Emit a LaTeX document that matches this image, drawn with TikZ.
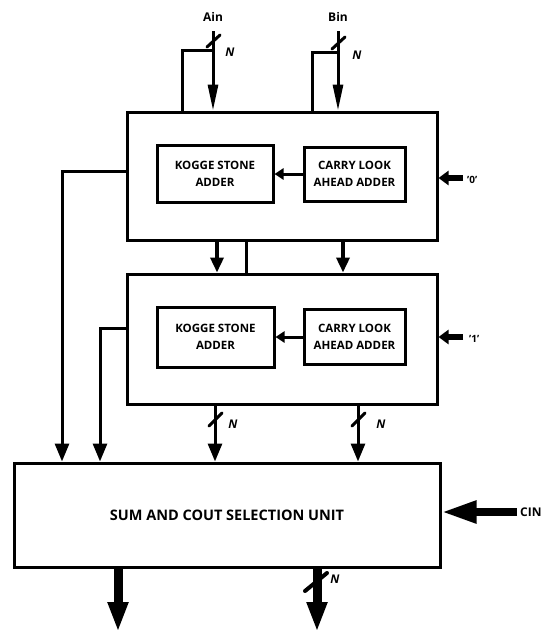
\documentclass[tikz,border=0pt]{standalone}
\usepackage{fontspec}
\setmainfont{Open Sans}
\usetikzlibrary{arrows.meta}
\begin{document}
\begin{tikzpicture}[x=1pt,y=-1pt,
  bigbox/.style={draw, line width=3pt, minimum width=310pt, minimum height=128pt, inner sep=0pt},
  inbox/.style={draw, line width=3pt, inner sep=0pt, align=center, font=\bfseries\fontsize{11.5}{17}\selectfont},
  wire/.style={line width=3pt},
  arr/.style={line width=3pt, -{Triangle[length=18pt,width=14pt]}},
  marr/.style={line width=3.5pt, -{Triangle[length=15pt,width=13pt]}},
  inarr/.style={line width=3pt, -{Triangle[length=26pt,width=10pt]}},
  carr/.style={line width=6pt, -{Triangle[length=10pt,width=14pt]}},
  sarr/.style={line width=3pt, -{Triangle[length=9pt,width=11pt]}},
  bigarr/.style={line width=9pt, -{Triangle[length=30pt,width=19pt]}},
  cinarr/.style={line width=8pt, -{Triangle[length=35pt,width=21pt]}},
  slashln/.style={line width=3pt, line cap=round},
  lbl/.style={font=\bfseries\fontsize{12}{14}\selectfont, inner sep=0pt},
  nlbl/.style={font=\bfseries\itshape\fontsize{12}{14}\selectfont, inner sep=0pt},
  qlbl/.style={font=\bfseries\fontsize{10}{12}\selectfont, inner sep=0pt}
]
\useasboundingbox (0,0) rectangle (541,632);

% main boxes
\node[bigbox] (top) at (282,176) {};
\node[bigbox, minimum height=130pt] (mid) at (282,339) {};
\node[bigbox, minimum width=426pt, minimum height=104pt, font=\bfseries\fontsize{14.5}{17}\selectfont] (sum) at (227,515) {SUM AND COUT SELECTION UNIT};

% inner boxes
\node[inbox, minimum width=116pt, minimum height=57pt] (ksa1) at (215,174) {KOGGE STONE\\ADDER};
\node[inbox, minimum width=101pt, minimum height=54pt] (cla1) at (354.5,174) {CARRY LOOK\\AHEAD ADDER};
\node[inbox, minimum width=117pt, minimum height=60pt] (ksa2) at (215.5,337) {KOGGE STONE\\ADDER};
\node[inbox, minimum width=101pt, minimum height=55pt] (cla2) at (354.5,337) {CARRY LOOK\\AHEAD ADDER};
\draw[sarr] (cla1.west) -- (ksa1.east);
\draw[sarr] (cla2.west) -- (ksa2.east);

% inputs Ain / Bin
\node[lbl] (ainl) at (213,17) {Ain};
\node[lbl] (binl) at (338,17) {Bin};
\coordinate (ain) at (213,31);
\coordinate (bin) at (338,31);
\draw[inarr] (ain) -- (ain |- top.north);
\draw[inarr] (bin) -- (bin |- top.north);
\coordinate (abr) at (213,50);
\coordinate (abl) at (182,50);
\draw[wire] (abr) -- (abl) -- (abl |- top.north);
\coordinate (bbr) at (338,52);
\coordinate (bbl) at (312,52);
\draw[wire] (bbr) -- (bbl) -- (bbl |- top.north);
\coordinate (as) at (213,42);
\coordinate (bs) at (338,44);
\draw[slashln] ([shift={(-6,5)}]as) -- ([shift={(7,-7)}]as);
\draw[slashln] ([shift={(-6,5)}]bs) -- ([shift={(7,-7)}]bs);
\node[nlbl] (an) at (230,52) {N};
\node[nlbl] (bn) at (357,55) {N};

% between boxes
\coordinate (m1) at (217,0);
\coordinate (m2) at (246,0);
\coordinate (m3) at (343,0);
\draw[marr] (m1 |- top.south) -- (m1 |- mid.north);
\draw[wire] (m2 |- top.south) -- (m2 |- mid.north);
\draw[marr] (m3 |- top.south) -- (m3 |- mid.north);

% constant inputs
\coordinate (z0) at (463,178);
\coordinate (z1) at (463,337);
\draw[carr] (z0) -- (z0 -| top.east);
\draw[carr] (z1) -- (z1 -| mid.east);
\node[qlbl, anchor=west] (q0) at (467,180) {'0'};
\node[qlbl, anchor=west] (q1) at (469,339) {'1'};

% left feed lines
\coordinate (lt) at (62,171);
\coordinate (lm) at (100,328);
\draw[arr] (lt -| top.west) -- (lt) -- (lt |- sum.north);
\draw[arr] (lm -| mid.west) -- (lm) -- (lm |- sum.north);

% mid outputs
\coordinate (o1) at (215,0);
\coordinate (o2) at (358,0);
\draw[arr] (o1 |- mid.south) -- (o1 |- sum.north);
\draw[arr] (o2 |- mid.south) -- (o2 |- sum.north);
\coordinate (s1) at (215,420);
\coordinate (s2) at (358,420);
\draw[slashln] ([shift={(-6,6)}]s1) -- ([shift={(7,-7)}]s1);
\draw[slashln] ([shift={(-6,6)}]s2) -- ([shift={(7,-7)}]s2);
\node[nlbl] (n1) at (233,424) {N};
\node[nlbl] (n2) at (381,424) {N};

% CIN
\coordinate (cin) at (517,512);
\draw[cinarr] (cin) -- (cin -| sum.east);
\node[lbl, anchor=west] (cinl) at (520,512) {CIN};

% outputs
\coordinate (b1) at (118,632);
\coordinate (b2) at (317,632);
\draw[bigarr] (b1 |- sum.south) -- (b1);
\draw[bigarr] (b2 |- sum.south) -- (b2);
\coordinate (s3) at (317,582);
\draw[slashln, line width=4pt] ([shift={(-12,9)}]s3) -- ([shift={(10,-9)}]s3);
\node[nlbl] (n3) at (335,579) {N};
\end{tikzpicture}
\end{document}
